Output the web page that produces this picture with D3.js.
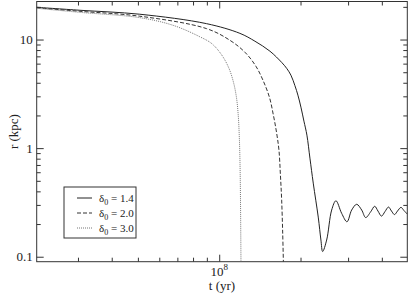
<!DOCTYPE html>
<html>
<head>
<meta charset="utf-8">
<script src="https://cdn.jsdelivr.net/npm/d3@7"></script>
<style>
  body { margin: 0; background: #fff; }
  svg text { font-family: "Liberation Serif", "Times New Roman", "DejaVu Serif", serif; fill: #222; }
</style>
</head>
<body>
<div id="chart"></div>
<script>
var svgWidth = 409;
var svgHeight = 297;

// margins put the frame where the reference has it
var margin = { top: 1.5, right: 1.7, bottom: 35.3, left: 36.7 };
var width = svgWidth - margin.left - margin.right;
var height = svgHeight - margin.top - margin.bottom;

// data: t in years, r in kpc
var tSolid = [2.11e7, 3.05e7, 5.08e7, 8.98e7, 1.193e8, 1.356e8, 1.541e8, 1.707e8, 1.781e8, 1.843e8, 1.907e8, 1.956e8,
  2.007e8, 2.059e8, 2.112e8, 2.167e8, 2.229e8, 2.326e8, 2.38e8, 2.415e8, 2.499e8, 2.608e8, 2.705e8, 2.84e8, 2.972e8,
  3.093e8, 3.228e8, 3.369e8, 3.486e8, 3.638e8, 3.764e8, 3.871e8, 3.988e8, 4.109e8, 4.234e8, 4.344e8, 4.456e8,
  4.571e8, 4.71e8, 4.832e8, 4.97e8];
var rSolid = [19.8, 18.6, 17.1, 14.0, 11.4, 9.65, 7.81, 6.12, 5.39, 4.695, 3.758, 3.074,
  2.384, 1.772, 1.317, 0.809, 0.4764, 0.2318, 0.1424, 0.1117, 0.1424, 0.269, 0.3275, 0.251, 0.21,
  0.269, 0.304, 0.269, 0.2294, 0.2594, 0.2914, 0.2633, 0.2367, 0.2605, 0.2866, 0.2633, 0.2444,
  0.2633, 0.2847, 0.266, 0.247];

var tDashed = [2.11e7, 3.05e7, 5.08e7, 8.98e7, 1.095e8, 1.245e8, 1.367e8, 1.452e8, 1.534e8, 1.587e8, 1.632e8,
  1.664e8, 1.685e8, 1.703e8, 1.718e8, 1.729e8];
var rDashed = [19.6, 18.2, 16.4, 12.6, 9.85, 7.64, 5.68, 4.22, 2.946, 2.012, 1.37,
  0.959, 0.5644, 0.3323, 0.1652, 0.0839];

var tDotted = [2.11e7, 3.05e7, 5.08e7, 6.76e7, 8.48e7, 9.397e7, 1.023e8, 1.086e8, 1.129e8, 1.158e8, 1.176e8,
  1.188e8, 1.196e8, 1.204e8];
var rDotted = [19.4, 17.8, 15.9, 13.5, 10.6, 9.15, 7.17, 5.45, 4.05, 2.946, 2.012,
  1.185, 0.5644, 0.0839];

var legendLabels = ["1.4", "2.0", "3.0"];

// tick values
var xMajor = [1e8];
var xMinor = [3e7, 4e7, 5e7, 6e7, 7e7, 8e7, 9e7, 2e8, 3e8, 4e8];
var yMajor = [0.1, 1, 10];
var yMinor = [0.2, 0.3, 0.4, 0.5, 0.6, 0.7, 0.8, 0.9, 2, 3, 4, 5, 6, 7, 8, 9, 20];

var svg = d3.select("#chart")
  .append("svg")
  .attr("width", svgWidth)
  .attr("height", svgHeight);

var chart = svg.append("g")
  .attr("transform", `translate(${margin.left}, ${margin.top})`);

var xScale = d3.scaleLog().domain([2.11e7, 4.97e8]).range([0, width]);
var yScale = d3.scaleLog().domain([0.09, 22.4]).range([height, 0]);

var axisColor = "#333";

// ticks point inwards on all four sides
function styleAxis(g) {
  g.select(".domain").remove();
  g.selectAll("line").attr("stroke", axisColor);
}

chart.append("g").attr("transform", `translate(0, ${height})`)
  .call(d3.axisBottom(xScale).tickValues(xMinor).tickSize(-4).tickFormat(""))
  .call(styleAxis);
chart.append("g").attr("transform", `translate(0, ${height})`)
  .call(d3.axisBottom(xScale).tickValues(xMajor).tickSize(-7).tickFormat(""))
  .call(styleAxis);
chart.append("g")
  .call(d3.axisTop(xScale).tickValues(xMinor).tickSize(-4).tickFormat(""))
  .call(styleAxis);
chart.append("g")
  .call(d3.axisTop(xScale).tickValues(xMajor).tickSize(-7).tickFormat(""))
  .call(styleAxis);

chart.append("g")
  .call(d3.axisLeft(yScale).tickValues(yMinor).tickSize(-4).tickFormat(""))
  .call(styleAxis);
chart.append("g")
  .call(d3.axisLeft(yScale).tickValues(yMajor).tickSize(-7).tickFormat(""))
  .call(styleAxis);
chart.append("g").attr("transform", `translate(${width}, 0)`)
  .call(d3.axisRight(yScale).tickValues(yMinor).tickSize(-4).tickFormat(""))
  .call(styleAxis);
chart.append("g").attr("transform", `translate(${width}, 0)`)
  .call(d3.axisRight(yScale).tickValues(yMajor).tickSize(-7).tickFormat(""))
  .call(styleAxis);

// tick labels
chart.selectAll(".ylab").data(yMajor).enter()
  .append("text")
  .attr("x", -4)
  .attr("y", d => yScale(d))
  .attr("dy", "0.35em")
  .attr("text-anchor", "end")
  .attr("font-size", "13px")
  .text(d => d3.format("~g")(d));

var xl = chart.append("text")
  .attr("x", xScale(1e8))
  .attr("y", height + 14)
  .attr("text-anchor", "middle")
  .attr("font-size", "13px");
xl.append("tspan").text("10");
xl.append("tspan").attr("dy", -6).attr("font-size", "9px").text("8");

// frame
chart.append("rect")
  .attr("width", width)
  .attr("height", height)
  .attr("fill", "none")
  .attr("stroke", axisColor)
  .attr("stroke-width", 1);

// curves
chart.append("clipPath").attr("id", "clip")
  .append("rect").attr("width", width).attr("height", height);

var line = d3.line()
  .x(d => xScale(d[0]))
  .y(d => yScale(d[1]))
  .curve(d3.curveCatmullRom.alpha(0.5));

var series = [
  { t: tSolid, r: rSolid, dash: null, color: "#222" },
  { t: tDashed, r: rDashed, dash: "4,2", color: "#333" },
  { t: tDotted, r: rDotted, dash: "1,1", color: "#777" }
];

series.forEach(function(s) {
  chart.append("path")
    .datum(d3.zip(s.t, s.r))
    .attr("clip-path", "url(#clip)")
    .attr("fill", "none")
    .attr("stroke", s.color)
    .attr("stroke-width", 1)
    .attr("stroke-dasharray", s.dash)
    .attr("d", line);
});

// legend
var legend = svg.append("g").attr("transform", "translate(64, 187)");
legend.append("rect")
  .attr("width", 72)
  .attr("height", 51)
  .attr("fill", "#fff")
  .attr("stroke", axisColor);

series.forEach(function(s, i) {
  var y = 11 + i * 15;
  legend.append("line")
    .attr("x1", 13).attr("x2", 28)
    .attr("y1", y).attr("y2", y)
    .attr("stroke", s.color)
    .attr("stroke-dasharray", s.dash);
  var t = legend.append("text")
    .attr("x", 35)
    .attr("y", y)
    .attr("dy", "0.35em")
    .attr("font-size", "11px");
  t.append("tspan").text("δ");
  t.append("tspan").attr("dy", 3).attr("font-size", "8px").text("0");
  t.append("tspan").attr("dy", -3).text(" = " + legendLabels[i]);
});

// axis titles
svg.append("text")
  .attr("transform", "rotate(-90)")
  .attr("x", -(margin.top + height / 2))
  .attr("y", 18)
  .attr("text-anchor", "middle")
  .attr("font-size", "13px")
  .text("r (kpc)");

svg.append("text")
  .attr("x", margin.left + width / 2)
  .attr("y", 290)
  .attr("text-anchor", "middle")
  .attr("font-size", "13px")
  .text("t (yr)");
</script>
</body>
</html>
